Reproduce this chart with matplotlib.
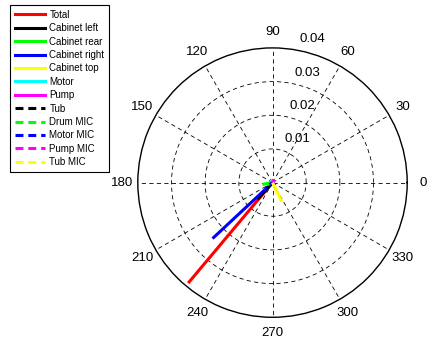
import matplotlib.pyplot as plt
import numpy as np

plt.rcParams['font.family'] = ['Liberation Sans', 'DejaVu Sans']

# series: name, colour, line style, angle (deg), magnitude
names = ["Total", "Cabinet left", "Cabinet rear", "Cabinet right", "Cabinet top",
         "Motor", "Pump", "Tub", "Drum MIC", "Motor MIC", "Pump MIC", "Tub MIC"]
colors = ["#ff0000", "#000000", "#00ff00", "#0000ff", "#ffff00", "#00ffff",
          "#ff00ff", "#000000", "#00ff00", "#0000ff", "#ff00ff", "#ffff00"]
styles = ["-", "-", "-", "-", "-", "-", "-", "--", "--", "--", "--", "--"]
angles = [230, 228, 190, 223, 296, 100, 90, 226, 200, 215, 80, 298]
mags = [0.0385, 0.0062, 0.0026, 0.0239, 0.0058, 0.0005, 0.0008,
        0.0040, 0.0018, 0.0010, 0.0006, 0.0040]

rings = [0.01, 0.02, 0.03, 0.04]
spokes = np.arange(0, 360, 30)

fig = plt.figure(figsize=(4.28, 3.41), dpi=100)
ax = fig.add_axes([0.322, 0.0695, 0.6294, 0.790], projection='polar')

for n, c, s, a, m in zip(names, colors, styles, angles, mags):
    t = np.deg2rad(a)
    ax.plot([0, t], [0, m], color=c, linestyle=s, linewidth=2.2, label=n,
            dashes=(2.6, 1.6) if s == "--" else (None, None))

ax.set_ylim(0, 0.04)
ax.set_rticks(rings[:-1])
ax.set_yticklabels([])
ax.set_thetagrids(spokes, [str(v) for v in spokes], fontsize=9.5)
ax.tick_params(axis='x', pad=1)
ax.grid(True, color='k', linestyle=(0, (5, 4)), linewidth=0.6)
ax.spines['polar'].set_color('k')
ax.spines['polar'].set_linewidth(1.0)

for r in rings:
    ax.annotate("%g" % r, xy=(np.deg2rad(82), r), xytext=(5.6, 2.9),
                textcoords='offset points', ha='left', va='bottom', fontsize=9.5)

leg = fig.legend(loc='upper left', bbox_to_anchor=(10 / 428, 1 - 5 / 341),
                 borderaxespad=0, fontsize=7, handlelength=3.1,
                 handletextpad=0.45, labelspacing=0.35, borderpad=0.5,
                 fancybox=False, edgecolor='k', framealpha=1)
leg.get_frame().set_linewidth(0.8)

fig.savefig("out.png", dpi=100)
